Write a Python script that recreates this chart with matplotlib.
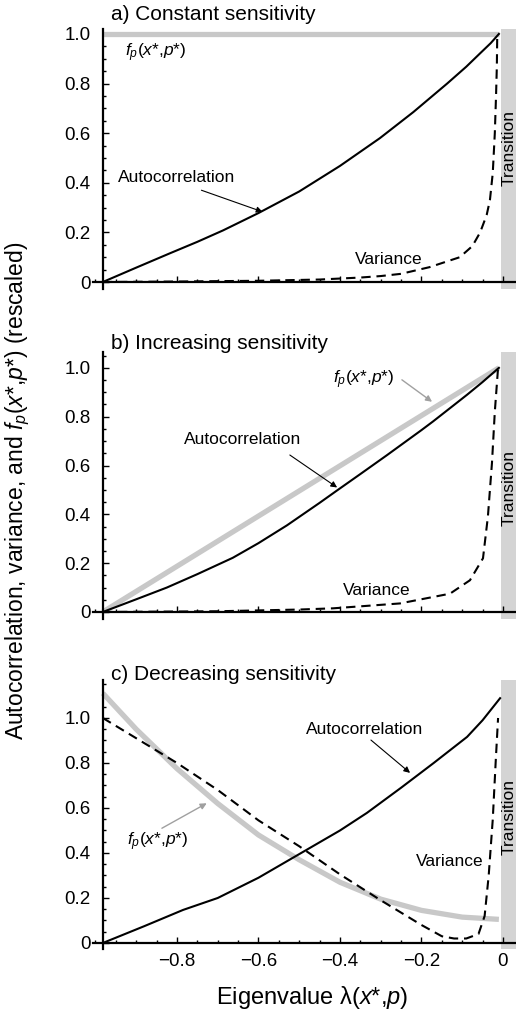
import matplotlib
matplotlib.use("Agg")
import matplotlib.pyplot as plt
from matplotlib.ticker import MultipleLocator, FixedLocator

plt.rcParams['font.family'] = ['Liberation Sans', 'DejaVu Sans']
plt.rcParams['mathtext.fontset'] = 'custom'
plt.rcParams['mathtext.rm'] = 'Liberation Sans'
plt.rcParams['mathtext.it'] = 'Liberation Sans:italic'

# ---- data ----
# a) constant sensitivity
lam_acf_a = [-0.982, -0.9, -0.817, -0.75, -0.687, -0.6, -0.5, -0.4, -0.302, -0.22, -0.137, -0.09, -0.056, -0.03, -0.01]
acf_a = [0.0, 0.058, 0.116, 0.162, 0.208, 0.278, 0.365, 0.468, 0.58, 0.685, 0.80, 0.868, 0.922, 0.963, 1.0]
lam_var_a = [-0.982, -0.8, -0.6, -0.45, -0.35, -0.3, -0.25, -0.18, -0.106, -0.075, -0.056, -0.04, -0.032, -0.025, -0.02, -0.017, -0.015, -0.014]
var_a = [0.0, 0.002, 0.005, 0.01, 0.018, 0.024, 0.033, 0.06, 0.10, 0.145, 0.2, 0.27, 0.33, 0.44, 0.6, 0.75, 0.87, 1.0]
lam_fp_a = [-0.982, -0.01]
fp_a = [1.0, 1.0]

# b) increasing sensitivity
lam_acf_b = [-0.982, -0.9, -0.825, -0.75, -0.663, -0.6, -0.53, -0.45, -0.407, -0.35, -0.285, -0.2, -0.172, -0.12, -0.088, -0.05, -0.01]
acf_b = [0.0, 0.052, 0.10, 0.155, 0.222, 0.282, 0.355, 0.447, 0.498, 0.565, 0.642, 0.745, 0.78, 0.848, 0.89, 0.942, 1.0]
lam_var_b = [-0.982, -0.7, -0.5, -0.417, -0.253, -0.13, -0.081, -0.049, -0.037, -0.027, -0.02, -0.012]
var_b = [0.0, 0.003, 0.01, 0.015, 0.035, 0.075, 0.13, 0.22, 0.39, 0.61, 0.82, 1.0]
lam_fp_b = [-0.982, -0.01]
fp_b = [0.0, 1.0]

# c) decreasing sensitivity
lam_acf_c = [-0.982, -0.88, -0.785, -0.7, -0.6, -0.5, -0.4, -0.334, -0.25, -0.17, -0.088, -0.05, -0.007]
acf_c = [0.0, 0.075, 0.147, 0.2, 0.29, 0.395, 0.5, 0.578, 0.69, 0.80, 0.916, 0.99, 1.088]
lam_var_c = [-0.982, -0.9, -0.8, -0.7, -0.6, -0.5, -0.4, -0.3, -0.2, -0.15, -0.12, -0.09, -0.06, -0.045, -0.035, -0.025, -0.018, -0.012]
var_c = [1.0, 0.91, 0.80, 0.68, 0.545, 0.43, 0.305, 0.19, 0.08, 0.03, 0.02, 0.02, 0.04, 0.12, 0.3, 0.55, 0.8, 1.0]
lam_fp_c = [-0.982, -0.9, -0.8, -0.7, -0.6, -0.5, -0.4, -0.3, -0.2, -0.1, -0.01]
fp_c = [1.11, 0.95, 0.775, 0.62, 0.48, 0.37, 0.27, 0.195, 0.145, 0.115, 0.105]

titles = ["a) Constant sensitivity", "b) Increasing sensitivity", "c) Decreasing sensitivity"]
x_ticks = [-0.8, -0.6, -0.4, -0.2, 0]
x_tick_labels = ["\u22120.8", "\u22120.6", "\u22120.4", "\u22120.2", "0"]
y_ticks = [0, 0.2, 0.4, 0.6, 0.8, 1.0]
y_tick_labels = ["0", "0.2", "0.4", "0.6", "0.8", "1.0"]

FP = "$f_p$($x$*,$p$*)"
GRAY = '#c8c8c8'
BAR = '#d4d4d4'

fig = plt.figure(figsize=(5.16, 10.10), dpi=100)
left, width = 0.1795, 0.8205
boxes = [(0.7139, 0.2574), (0.3873, 0.2642), (0.0601, 0.2669)]
ylims = [(-0.028, 1.02), (-0.028, 1.065), (-0.028, 1.17)]
title_y = [0.986, 0.660, 0.332]

panels = [
    (lam_acf_a, acf_a, lam_var_a, var_a, lam_fp_a, fp_a),
    (lam_acf_b, acf_b, lam_var_b, var_b, lam_fp_b, fp_b),
    (lam_acf_c, acf_c, lam_var_c, var_c, lam_fp_c, fp_c),
]

axes = []
for i, (la, a, lv, v, lf, f) in enumerate(panels):
    ax = fig.add_axes([left, boxes[i][0], width, boxes[i][1]])
    axes.append(ax)
    ax.set_xlim(-1.007, 0.032)
    ax.set_ylim(*ylims[i])
    ax.axvspan(-0.004, 0.032, color=BAR, lw=0, zorder=0)
    ax.plot(lf, f, color=GRAY, lw=3.8, solid_capstyle='butt', zorder=2)
    ax.plot(la, a, color='k', lw=1.5, zorder=3)
    ax.plot(lv, v, color='k', lw=1.5, dashes=(4.5, 2.8), zorder=3)
    for s in ['top', 'right']:
        ax.spines[s].set_visible(False)
    ax.spines['left'].set_position(('data', -0.982))
    ax.spines['bottom'].set_position(('data', 0))
    ax.spines['left'].set_linewidth(1.6)
    ax.spines['bottom'].set_linewidth(1.6)
    ax.yaxis.set_major_locator(FixedLocator(y_ticks))
    ax.set_yticklabels(y_tick_labels)
    ax.yaxis.set_minor_locator(MultipleLocator(0.05))
    ax.xaxis.set_major_locator(FixedLocator(x_ticks))
    ax.xaxis.set_minor_locator(MultipleLocator(0.05))
    ax.tick_params(which='both', direction='in', width=1.0)
    ax.tick_params(which='major', length=4)
    ax.tick_params(which='minor', length=2.5)
    ax.tick_params(axis='y', labelsize=13.5, pad=9)
    if i == 2:
        ax.set_xticklabels(x_tick_labels)
        ax.tick_params(axis='x', labelsize=13.5, pad=7)
    else:
        ax.set_xticklabels([])
    fig.text(0.215, title_y[i], titles[i], fontsize=15, ha='left', va='center')

ax_a, ax_b, ax_c = axes
arrow_k = dict(arrowstyle='-|>', color='k', lw=0.8, mutation_scale=9, shrinkA=0, shrinkB=0)
arrow_g = dict(arrowstyle='-|>', color='#a0a0a0', lw=1.0, mutation_scale=9, shrinkA=0, shrinkB=0)
fs = 12.5

# panel a labels
ax_a.text(-0.80, 0.42, "Autocorrelation", fontsize=fs, ha='center', va='center')
ax_a.text(-0.928, 0.923, FP, fontsize=fs, ha='left', va='center')
ax_a.annotate("", xy=(-0.59, 0.283), xytext=(-0.74, 0.37), arrowprops=arrow_k)
ax_a.text(-0.28, 0.09, "Variance", fontsize=fs, ha='center', va='center')
ax_a.text(0.014, 0.54, "Transition", fontsize=fs, rotation=90, ha='center', va='center')

# panel b labels
ax_b.text(-0.417, 0.951, FP, fontsize=fs, ha='left', va='center')
ax_b.annotate("", xy=(-0.174, 0.861), xytext=(-0.248, 0.951), arrowprops=arrow_g)
ax_b.text(-0.638, 0.705, "Autocorrelation", fontsize=fs, ha='center', va='center')
ax_b.annotate("", xy=(-0.407, 0.51), xytext=(-0.523, 0.643), arrowprops=arrow_k)
ax_b.text(-0.309, 0.09, "Variance", fontsize=fs, ha='center', va='center')
ax_b.text(0.014, 0.508, "Transition", fontsize=fs, rotation=90, ha='center', va='center')

# panel c labels
ax_c.text(-0.34, 0.951, "Autocorrelation", fontsize=fs, ha='center', va='center')
ax_c.annotate("", xy=(-0.228, 0.756), xytext=(-0.324, 0.902), arrowprops=arrow_k)
ax_c.text(-0.923, 0.449, FP, fontsize=fs, ha='left', va='center')
ax_c.annotate("", xy=(-0.727, 0.621), xytext=(-0.837, 0.51), arrowprops=arrow_g)
ax_c.text(-0.13, 0.36, "Variance", fontsize=fs, ha='center', va='center')
ax_c.text(0.014, 0.56, "Transition", fontsize=fs, rotation=90, ha='center', va='center')

fig.text(0.035, 0.514, "Autocorrelation, variance, and " + FP + " (rescaled)",
         rotation=90, fontsize=16.5, ha='center', va='center')
fig.text(0.605, 0.012, "Eigenvalue \u03bb($x$*,$p$)", fontsize=17, ha='center', va='center')

fig.savefig("out.png", dpi=100)
